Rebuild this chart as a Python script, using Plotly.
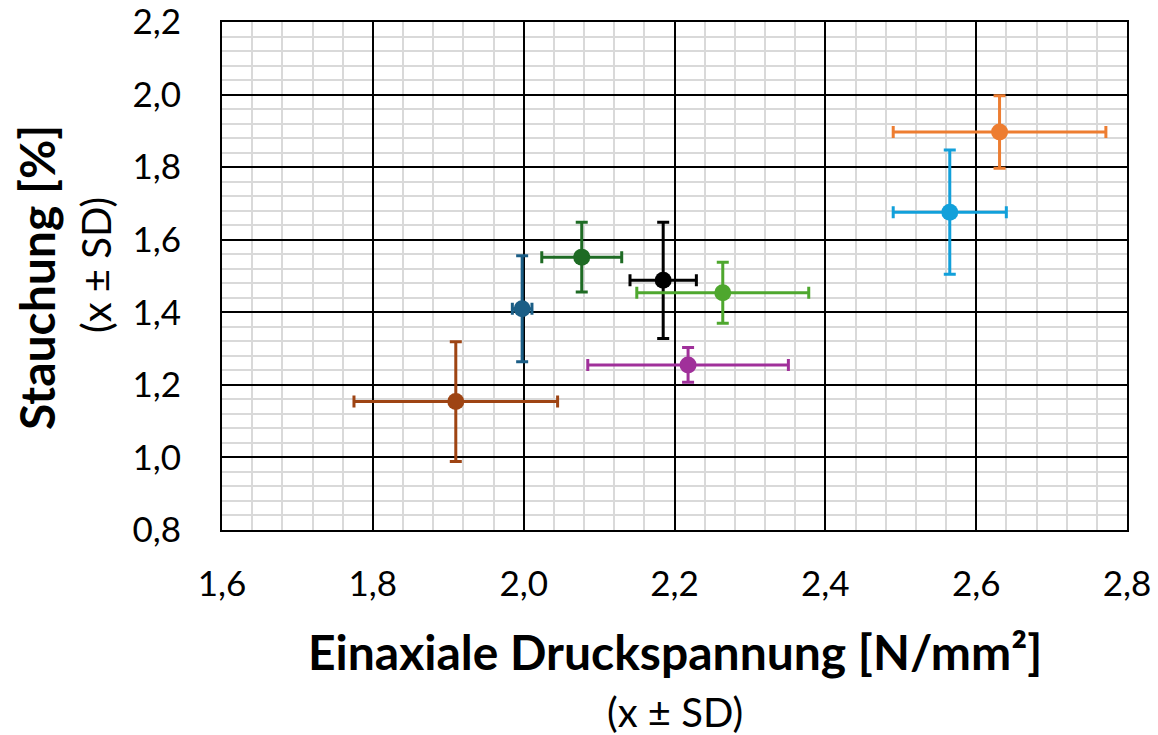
import plotly.graph_objects as go

# data
x_vals = [2.631, 2.565, 1.910, 2.077, 2.185, 2.264, 1.998, 2.218]
y_vals = [1.897, 1.676, 1.154, 1.552, 1.488, 1.454, 1.410, 1.255]
x_sd = [0.141, 0.075, 0.135, 0.053, 0.044, 0.114, 0.013, 0.133]
y_sd = [0.100, 0.171, 0.165, 0.096, 0.160, 0.084, 0.146, 0.048]
colors = ["#ED7D31", "#12A0DA", "#9E4413", "#1E6B24", "#000000", "#4EA72E", "#1B5E86", "#A0309A"]

x_ticks = [1.6, 1.8, 2.0, 2.2, 2.4, 2.6, 2.8]
y_ticks = [0.8, 1.0, 1.2, 1.4, 1.6, 1.8, 2.0, 2.2]

FONT = "Lato"

fig = go.Figure()
for xv, yv, xs, ys, c in zip(x_vals, y_vals, x_sd, y_sd, colors):
    fig.add_trace(go.Scatter(
        x=[xv], y=[yv], mode="markers",
        marker=dict(size=17, color=c),
        error_x=dict(type="data", array=[xs], color=c, thickness=3, width=6),
        error_y=dict(type="data", array=[ys], color=c, thickness=3, width=6),
        showlegend=False, cliponaxis=False,
    ))

axis_common = dict(
    showgrid=True, gridcolor="#000000", gridwidth=2,
    showline=True, linecolor="#000000", linewidth=2, mirror=True,
    zeroline=False, ticks="", tickformat=".1f", automargin=False,
    ticklabeloverflow="allow",
    tickfont=dict(family=FONT, size=35, color="#000000"),
    minor=dict(showgrid=True, gridcolor="#D9D9D9", gridwidth=1.5, dtick=0.04),
)

fig.update_xaxes(range=[1.6, 2.8], tickvals=x_ticks, ticklabelstandoff=22, **axis_common)
fig.update_yaxes(range=[0.8, 2.2], tickvals=y_ticks, ticklabelstandoff=32, **axis_common)

fig.update_layout(
    width=1158, height=735,
    margin=dict(l=222, r=31, t=22, b=205),
    paper_bgcolor="white", plot_bgcolor="white",
    separators=",.",
    font=dict(family=FONT, color="#000000"),
    annotations=[
        dict(text="<b>Einaxiale Druckspannung [N/mm²]</b>", xref="paper", yref="paper",
             x=0.5, y=0, yshift=-121, showarrow=False, xanchor="center", yanchor="middle",
             font=dict(family=FONT, size=48, color="#000000")),
        dict(text="(x ± SD)", xref="paper", yref="paper",
             x=0.5, y=0, yshift=-182, showarrow=False, xanchor="center", yanchor="middle",
             font=dict(family=FONT, size=40, color="#000000")),
        dict(text="<b>Stauchung [%]</b>", xref="paper", yref="paper",
             x=0, y=0.5, xshift=-186, yshift=-2, showarrow=False, xanchor="center", yanchor="middle",
             textangle=-90, font=dict(family=FONT, size=48, color="#000000")),
        dict(text="(x ± SD)", xref="paper", yref="paper",
             x=0, y=0.5, xshift=-126, yshift=11, showarrow=False, xanchor="center", yanchor="middle",
             textangle=-90, font=dict(family=FONT, size=40, color="#000000")),
    ],
)

fig.write_html("out.html", config={"displayModeBar": False},
               post_script="document.body.style.margin='0';")
